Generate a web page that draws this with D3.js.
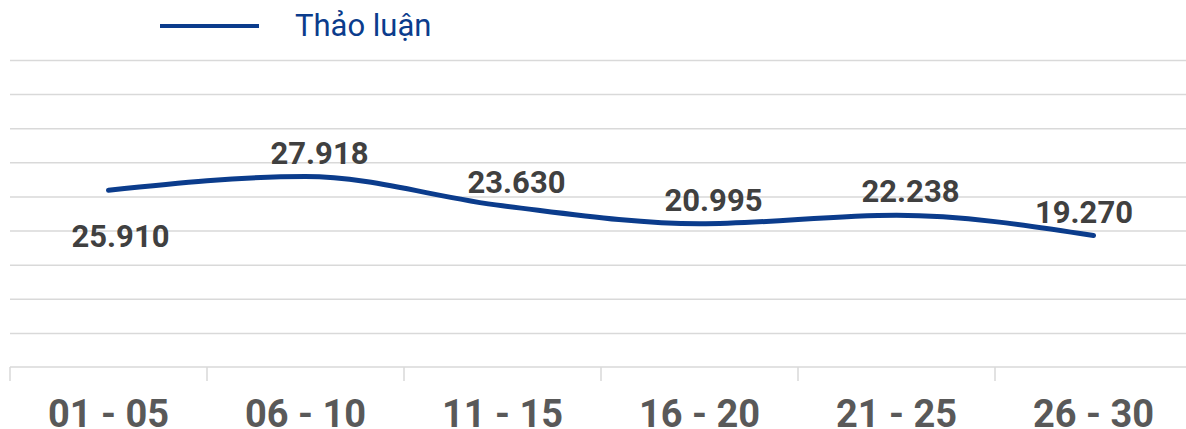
<!DOCTYPE html>
<html>
<head>
<meta charset="utf-8">
<script src="https://cdn.jsdelivr.net/npm/d3@7"></script>
<style>
  html, body { margin: 0; padding: 0; background: #fff; }
  svg { display: block; font-family: Roboto, "Noto Sans", sans-serif; }
</style>
</head>
<body>
<svg id="chart" width="1186" height="429"></svg>
<script>
const categories = ["01 - 05", "06 - 10", "11 - 15", "16 - 20", "21 - 25", "26 - 30"];
const seriesName = "Thảo luận";
const values = [25910, 27918, 23630, 20995, 22238, 19270];
const valueLabels = ["25.910", "27.918", "23.630", "20.995", "22.238", "19.270"];
const yTicks = [0, 5000, 10000, 15000, 20000, 25000, 30000, 35000, 40000, 45000];

const W = 1186, H = 429;
const margin = { left: 10, right: -6, top: 60, bottom: 62 };
const svg = d3.select("#chart");

const x = d3.scaleBand().domain(categories).range([margin.left, W - margin.right]).padding(0);
const y = d3.scaleLinear().domain([0, 45000]).range([H - margin.bottom, margin.top]);

// gridlines
const grid = svg.append("g")
  .attr("transform", `translate(${margin.left},0)`)
  .call(d3.axisLeft(y).tickValues(yTicks.slice(1)).tickSize(-(W - margin.left)).tickFormat(""));
grid.select(".domain").remove();
grid.selectAll("line").attr("stroke", "#d9d9d9").attr("stroke-width", 1.5);

// x axis
const xa = svg.append("g")
  .attr("transform", `translate(0,${y(0)})`)
  .call(d3.axisBottom(x).tickSize(0).tickPadding(0).tickFormat(""));
xa.select(".domain").attr("d", `M${margin.left},0H${W}`).attr("stroke", "#d9d9d9").attr("stroke-width", 1.5);
xa.selectAll(".tick").remove();

// tick marks at band edges
const edges = categories.map(c => x(c));
svg.append("g").selectAll("line").data(edges).join("line")
  .attr("x1", d => d).attr("x2", d => d)
  .attr("y1", y(0)).attr("y2", y(0) + 14)
  .attr("stroke", "#d9d9d9").attr("stroke-width", 1.5);

// category labels
svg.append("g").selectAll("text").data(categories).join("text")
  .attr("x", d => x(d) + x.bandwidth() / 2)
  .attr("y", H - 2)
  .attr("text-anchor", "middle")
  .attr("font-size", 38)
  .attr("font-weight", 700)
  .attr("fill", "#595959")
  .text(d => d);

// line
const cx = i => x(categories[i]) + x.bandwidth() / 2;
const line = d3.line()
  .x((d, i) => cx(i))
  .y(d => y(d))
  .curve(d3.curveMonotoneX);
svg.append("path")
  .datum(values)
  .attr("d", line)
  .attr("fill", "none")
  .attr("stroke", "#0b3c8c")
  .attr("stroke-width", 5)
  .attr("stroke-linecap", "round");

// value labels
svg.append("g").selectAll("text").data(values).join("text")
  .attr("x", (d, i) => {
    const px = cx(i) + (i === 0 ? 12 : 14);
    return Math.min(px, W - 102);
  })
  .attr("y", (d, i) => i === 0 ? y(d) + 57 : y(d) - 13)
  .attr("text-anchor", "middle")
  .attr("font-size", 31)
  .attr("font-weight", 700)
  .attr("fill", "#404040")
  .text((d, i) => valueLabels[i]);

// legend
const lg = svg.append("g");
lg.append("line")
  .attr("x1", 160).attr("x2", 259).attr("y1", 26).attr("y2", 26)
  .attr("stroke", "#0b3c8c").attr("stroke-width", 4);
lg.append("text")
  .attr("x", 295).attr("y", 36)
  .attr("font-size", 31)
  .attr("fill", "#0b3c8c")
  .text(seriesName);
</script>
</body>
</html>
